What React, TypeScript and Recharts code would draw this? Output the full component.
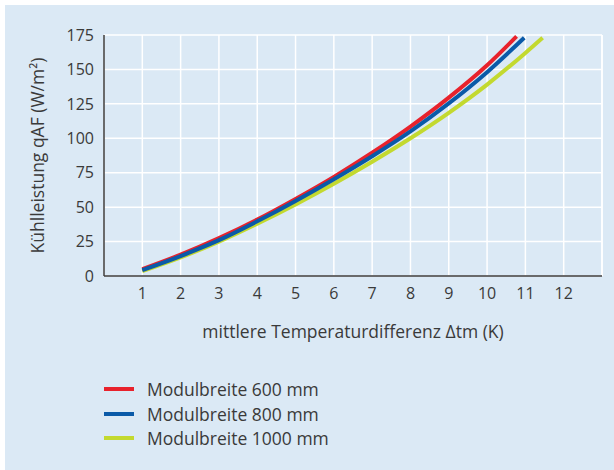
import { LineChart, Line, XAxis, YAxis, CartesianGrid, Legend, ReferenceLine } from "recharts";

// Kühlleistung je Modulbreite
const x600 = [1, 2, 3, 4, 5, 6, 7, 8, 9, 10, 10.77];
const y600 = [5, 15.5, 27.5, 41, 56, 72, 89.5, 108.5, 129.5, 153, 174];

const x800 = [1, 2, 3, 4, 5, 6, 7, 8, 9, 10, 10.97];
const y800 = [4.3, 14.5, 26, 39.7, 54.5, 70.3, 87, 105, 125.3, 148, 173];

const x1000 = [1, 2, 3, 4, 5, 6, 7, 8, 9, 10, 11, 11.45];
const y1000 = [3.5, 13.5, 25, 38, 52, 67, 83, 100, 118.5, 139, 162, 173];

const xTicks = [1, 2, 3, 4, 5, 6, 7, 8, 9, 10, 11, 12];
const yTicks = [0, 25, 50, 75, 100, 125, 150, 175];

const seriesNames = ["Modulbreite 600 mm", "Modulbreite 800 mm", "Modulbreite 1000 mm"];
const seriesColors = ["#e8222c", "#0a5aa8", "#c3d92f"];

const toPoints = (xs: number[], ys: number[]) => xs.map((x, i) => ({ x, y: ys[i] }));

const series = [
    { name: seriesNames[0], color: seriesColors[0], data: toPoints(x600, y600) },
    { name: seriesNames[1], color: seriesColors[1], data: toPoints(x800, y800) },
    { name: seriesNames[2], color: seriesColors[2], data: toPoints(x1000, y1000) },
];

const font = "'Open Sans', sans-serif";
const textColor = "#3a3a3a";

function LegendBox(): JSX.Element {
    return (
        <div style={{ fontFamily: font, fontSize: 17.5, color: textColor }}>
            {series.map((s) => (
                <div key={s.name} style={{ display: "flex", alignItems: "center", height: 24.5 }}>
                    <span style={{ display: "inline-block", width: 30, height: 4, background: s.color, marginRight: 13 }} />
                    <span>{s.name}</span>
                </div>
            ))}
        </div>
    );
}

function App(): JSX.Element {
    // zeichnen: grün zuerst, dann rot, blau oben
    const drawOrder = [series[2], series[0], series[1]];

    return (
        <div style={{ position: "absolute", left: 5, top: 5, width: 609, height: 465, background: "#dbe9f5" }}>
            <LineChart
                width={609}
                height={465}
                margin={{ top: 30, right: 12, left: 0, bottom: 132 }}>

                <CartesianGrid stroke="#ffffff" strokeWidth={1.5} />
                <ReferenceLine x={13} stroke="#ffffff" strokeWidth={1.5} />

                <XAxis
                    dataKey="x"
                    type="number"
                    domain={[0, 13]}
                    ticks={xTicks}
                    allowDuplicatedCategory={false}
                    height={62}
                    tickLine={false}
                    tickMargin={6}
                    axisLine={{ stroke: textColor, strokeWidth: 1.5 }}
                    tick={{ fill: textColor, fontSize: 16, fontFamily: font }}
                    label={{
                        value: "mittlere Temperaturdifferenz Δtm (K)",
                        position: "insideBottom",
                        offset: 0,
                        fill: textColor,
                        fontSize: 17.5,
                        fontFamily: font,
                    }}
                />
                <YAxis
                    type="number"
                    domain={[0, 175]}
                    ticks={yTicks}
                    width={99}
                    tickLine={false}
                    tickMargin={4}
                    axisLine={{ stroke: textColor, strokeWidth: 1.5 }}
                    tick={{ fill: textColor, fontSize: 16, fontFamily: font }}
                    label={{
                        value: "Kühlleistung qAF (W/m²)",
                        angle: -90,
                        position: "insideLeft",
                        offset: 33,
                        fill: textColor,
                        fontSize: 17.5,
                        fontFamily: font,
                        style: { textAnchor: "middle" },
                    }}
                />

                {drawOrder.map((s) => (
                    <Line
                        key={s.name}
                        data={s.data}
                        dataKey="y"
                        name={s.name}
                        type="monotone"
                        stroke={s.color}
                        strokeWidth={4}
                        dot={false}
                        activeDot={false}
                        isAnimationActive={false}
                    />
                ))}

                <Legend
                    layout="vertical"
                    align="center"
                    verticalAlign="middle"
                    content={() => <LegendBox />}
                    wrapperStyle={{ left: 99, top: 372, width: 300 }}
                />
            </LineChart>
        </div>
    );
}

export default App;
